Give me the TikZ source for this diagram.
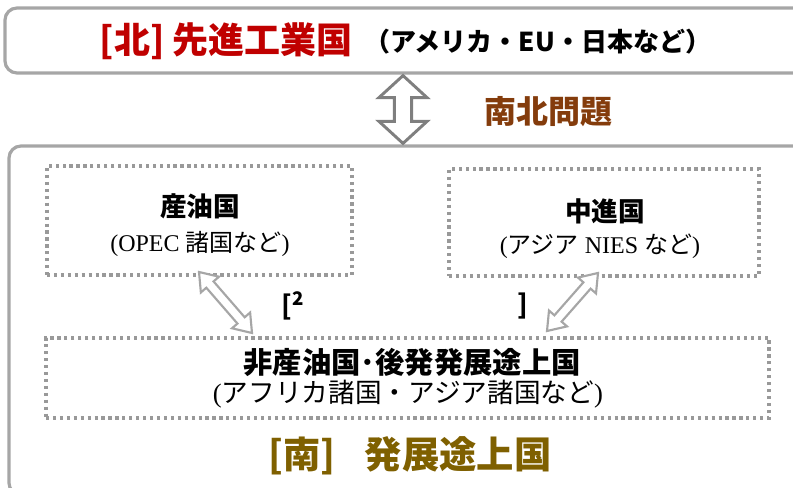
\documentclass[tikz,border=0pt]{standalone}
\usepackage{fontspec}
\setmainfont{Liberation Serif}
\newfontfamily\cjk{Noto Sans CJK JP}
\usetikzlibrary{calc,fit}
\definecolor{boxgray}{HTML}{A6A6A6}
\definecolor{dotgray}{HTML}{999999}
\definecolor{arrgray}{HTML}{7F7F7F}
\definecolor{northred}{HTML}{C00000}
\definecolor{nsbrown}{HTML}{843C0C}
\definecolor{southolive}{HTML}{7F6000}
\newcommand{\hollowarrow}[6][]{%
  \coordinate (#2-h1) at ($(#2)!#4!(#3)$);
  \coordinate (#2-h2) at ($(#3)!#4!(#2)$);
  \draw[#1] (#2) -- ($(#2-h1)!#5!90:(#3)$) -- ($(#2-h1)!#6!90:(#3)$)
    -- ($(#2-h2)!#6!-90:(#2)$) -- ($(#2-h2)!#5!-90:(#2)$) -- (#3)
    -- ($(#2-h2)!#5!90:(#2)$) -- ($(#2-h2)!#6!90:(#2)$)
    -- ($(#2-h1)!#6!-90:(#3)$) -- ($(#2-h1)!#5!-90:(#3)$) -- cycle;
}
\tikzset{
  outerbox/.style={draw=boxgray, line width=2.4pt, rounded corners=9pt, inner sep=0pt, fill=white},
  dotbox/.style={draw=dotgray, line width=2.6pt, dash pattern=on 2.4pt off 2.8pt, inner sep=0pt},
  boldjp/.style={font=\cjk\bfseries\fontsize{20}{24}\selectfont, inner sep=0pt},
  subjp/.style={font=\fontsize{18}{22}\selectfont, inner sep=0pt},
  bigarrow/.style={draw=arrgray, fill=white, line width=2.2pt, line join=miter},
  smallarrow/.style={draw=boxgray, fill=white, line width=1.6pt, line join=miter},
}
\begin{document}
\begin{tikzpicture}[x=0.75pt,y=-0.75pt]
\useasboundingbox (0,0) rectangle (793,488);
\clip (0,0) rectangle (793,488);
% north box
\node[outerbox, fit={(5,8)(815,73)}] (north) {};
\node[anchor=east, text=northred, font=\cjk\bfseries\fontsize{27}{30}\selectfont, inner sep=0pt] (ntitle) at (353,41) {[北] 先進工業国};
\node[anchor=west, font=\cjk\bfseries\fontsize{19.5}{22}\selectfont, inner sep=0pt] (nsub) at (364,42) {（アメリカ・EU・日本など）};
% south box
\node[outerbox, fit={(9,146)(815,495)}] (south) {};
% vertical arrow
\coordinate (ax) at (403,0);
\coordinate (na) at ($(ax |- north.south)+(0,1)$);
\coordinate (sa) at ($(ax |- south.north)+(0,-1)$);
\hollowarrow[bigarrow]{na}{sa}{16.5pt}{18pt}{6.5pt}
\node[text=nsbrown, font=\cjk\bfseries\fontsize{24}{28}\selectfont, inner sep=0pt] (nsq) at (548,112) {南北問題};
% inner boxes
\node[dotbox, fit={(47,166)(352,275)}] (b1) {};
\node[dotbox, fit={(449,169)(759,276)}] (b2) {};
\node[dotbox, fit={(46,338)(769,418)}] (b3) {};
\node[boldjp] (t1) at (200,206) {産油国};
\node[subjp] (s1) at (200,244) {(OPEC {\cjk 諸国など})};
\node[boldjp] (t2) at (605,211) {中進国};
\node[subjp] (s2) at (600,246) {({\cjk アジア} NIES {\cjk など})};
\node[font=\cjk\bfseries\fontsize{22}{26}\selectfont, inner sep=0pt] (t3) at (412,362) {非産油国･後発発展途上国};
\node[subjp, font=\fontsize{20}{24}\selectfont] (s3) at (408,394) {({\cjk アフリカ諸国・アジア諸国など})};
% diagonal arrows
\coordinate (la1) at (199,272);
\coordinate (la2) at (252,333);
\coordinate (ra1) at (598,273);
\coordinate (ra2) at (547,331);
\hollowarrow[smallarrow]{la1}{la2}{12.5pt}{9pt}{3.6pt}
\hollowarrow[smallarrow]{ra1}{ra2}{12.5pt}{9pt}{3.6pt}
\node[font=\cjk\bfseries\fontsize{20}{22}\selectfont, inner sep=0pt] (br1) at (293,306) {[\textsuperscript{2}};
\node[font=\cjk\bfseries\fontsize{20}{22}\selectfont, inner sep=0pt] (br2) at (523,306) {]};
% south label
\node[text=southolive, font=\cjk\bfseries\fontsize{28}{32}\selectfont, inner sep=0pt] (slabel) at (410,456) {[南]\hspace{22pt}発展途上国};
\end{tikzpicture}
\end{document}
